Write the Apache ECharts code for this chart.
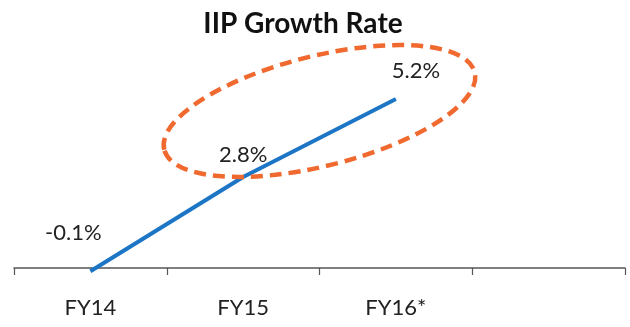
<!DOCTYPE html>
<html>
<head>
<meta charset="utf-8">
<script src="https://cdn.jsdelivr.net/npm/echarts@6/dist/echarts.min.js"></script>
<style>
  html, body { margin: 0; padding: 0; background: #fff; }
  #chart { width: 630px; height: 327px; }
</style>
</head>
<body>
<div id="chart"></div>
<script>
// Fiscal years on the x axis (last slot left empty)
var categories = ['FY14', 'FY15', 'FY16*', ''];
// IIP growth rate, percent
var growth = [-0.1, 2.8, 5.2];

var FONT = 'Lato, "Open Sans", sans-serif';
// label centre offsets from each point
var labelOffsets = [[-17, -38], [0, -22], [20, -28]];

var chart = echarts.init(document.getElementById('chart'), null, { renderer: 'canvas' });

var option = {
  animation: false,
  backgroundColor: '#ffffff',
  title: {
    text: 'IIP Growth Rate',
    left: 298,
    top: 5,
    textAlign: 'center',
    textStyle: { fontFamily: FONT, fontWeight: 'bold', fontSize: 28, color: '#111' }
  },
  grid: { left: 14, right: 5, top: 73, bottom: 59, containLabel: false },
  xAxis: {
    type: 'category',
    data: categories,
    boundaryGap: true,
    axisLine: { onZero: false, lineStyle: { color: '#555', width: 1.5 } },
    axisTick: { show: true, inside: false, length: 7, lineStyle: { color: '#555', width: 1.2 } },
    axisLabel: { margin: 29, fontFamily: FONT, fontSize: 22, color: '#222' }
  },
  yAxis: {
    type: 'value',
    min: 0,
    max: 6,
    show: false,
    splitLine: { show: false }
  },
  series: [{
    type: 'line',
    data: growth.map(function (v, i) {
      return { value: v, label: { offset: labelOffsets[i] } };
    }),
    symbol: 'circle',
    symbolSize: 2,
    showSymbol: true,
    itemStyle: { color: 'rgba(0,0,0,0)', borderWidth: 0 },
    clip: false,
    lineStyle: { color: '#1C75C5', width: 4 },
    label: {
      show: true,
      position: 'inside',
      fontFamily: FONT,
      fontSize: 22,
      color: '#222',
      formatter: function (p) { return p.value.toFixed(1) + '%'; }
    }
  }]
};

chart.setOption(option);

// Dashed highlight ring around the FY15 and FY16* points
var p15 = chart.convertToPixel({ seriesIndex: 0 }, ['FY15', growth[1]]);
var p16 = chart.convertToPixel({ seriesIndex: 0 }, ['FY16*', growth[2]]);
var cx = (p15[0] + p16[0]) / 2;
var cy = (p15[1] + p16[1]) / 2 - 27;
chart.setOption({
  graphic: [{
    type: 'ellipse',
    x: cx,
    y: cy,
    rotation: 14 * Math.PI / 180,
    shape: { cx: 0, cy: 0, rx: 160, ry: 55 },
    style: {
      fill: 'none',
      stroke: '#F0692F',
      lineWidth: 4.5,
      lineDash: [12, 7]
    },
    z: 10
  }]
});
</script>
</body>
</html>
